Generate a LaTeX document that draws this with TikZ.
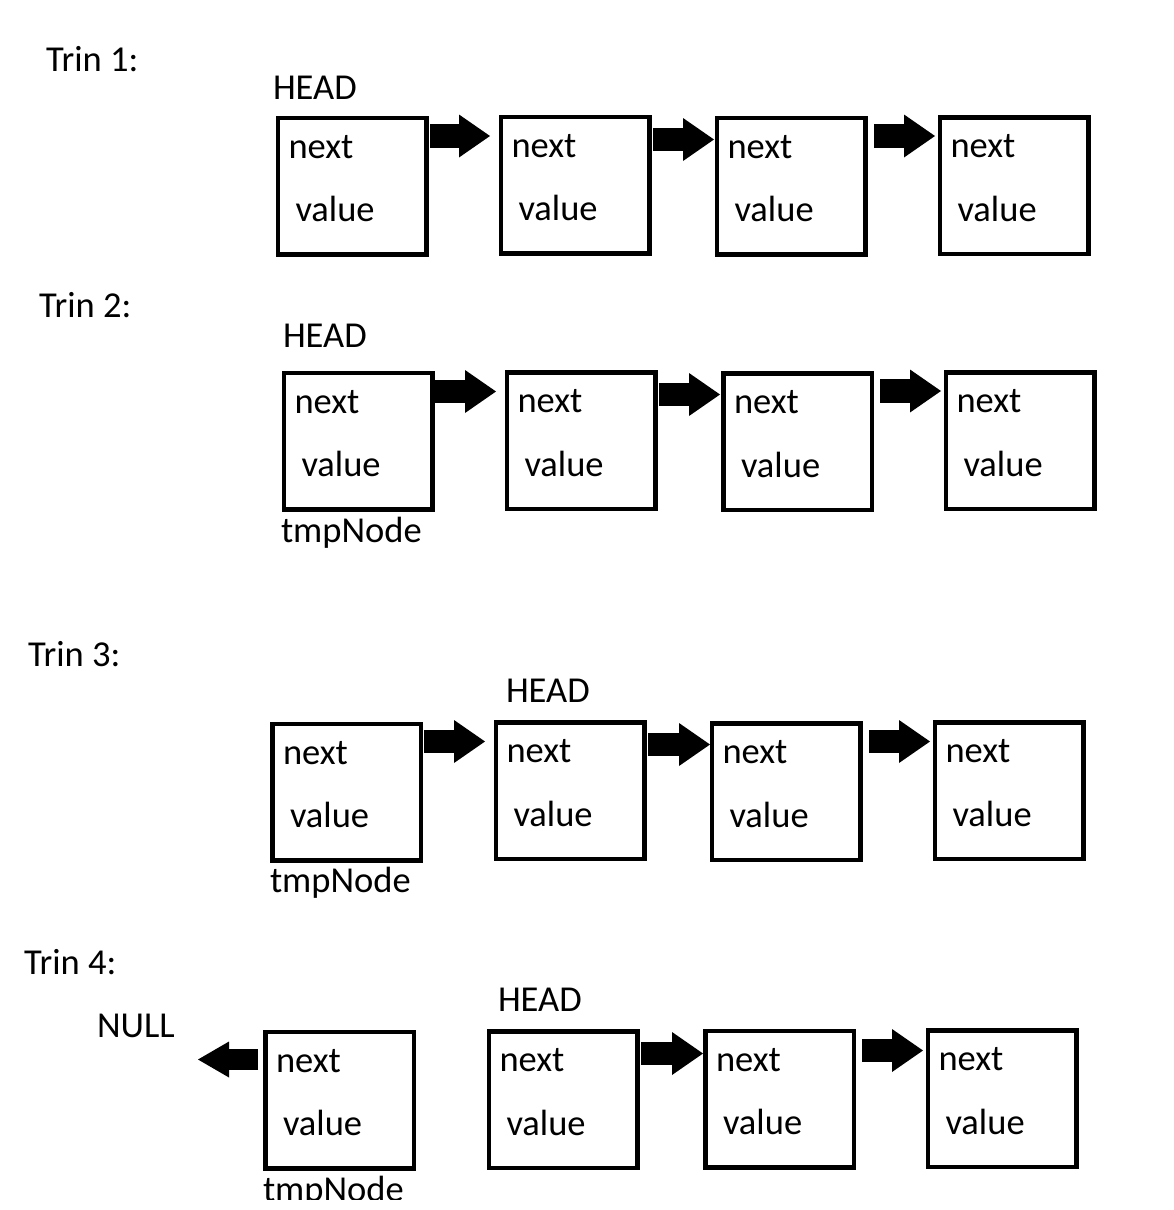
\documentclass[tikz,border=0pt]{standalone}
\usepackage{fontspec}
\setmainfont{Carlito}
\usetikzlibrary{arrows.meta}
\tikzset{
  lbox/.style={draw, line width=4.5pt, minimum width=148.5pt, minimum height=136.5pt, inner sep=0pt, outer sep=2.25pt},
  ltext/.style={inner sep=0pt, outer sep=0pt, anchor=base west, font=\fontsize{36.5}{44}\selectfont},
  blockarrow/.style={line width=23.5pt, -{Triangle[length=31pt,width=43pt,line width'=0pt]}},
  smallarrow/.style={line width=21pt, -{Triangle[length=31pt,width=36pt,line width'=0pt]}}
}
\newcommand\listbox[3]{%
  \node[lbox] (#1) at (#2,#3) {};
  \node[ltext] (#1n) at ([shift={(13,42.5)}]#1.north west) {next};
  \node[ltext] (#1v) at ([shift={(20,106)}]#1.north west) {value};
}
\begin{document}
\begin{tikzpicture}[x=1pt,y=-1pt]
\useasboundingbox[fill=white] (0,0) rectangle (1173,1210);

% ---- Trin 1
\node[ltext] (t1) at (46,71) {Trin 1:};
\node[ltext] (h1) at (273,99) {HEAD};
\listbox{b11}{352}{186}
\listbox{b12}{575}{185}
\listbox{b13}{791}{186}
\listbox{b14}{1014}{185.5}
\draw[blockarrow] ([shift={(1.5,20.5)}]b11.north east) -- ([shift={(-8.5,21.5)}]b12.north west);
\draw[blockarrow] ([shift={(1.5,25)}]b12.north east) -- ([shift={(-0.5,24)}]b13.north west);
\draw[blockarrow] ([shift={(6.5,20.5)}]b13.north east) -- ([shift={(-2.5,21)}]b14.north west);

% ---- Trin 2
\node[ltext] (t2) at (39,317) {Trin 2:};
\node[ltext] (h2) at (283,347) {HEAD};
\listbox{b21}{358}{441}
\listbox{b22}{581}{440.5}
\listbox{b23}{797.5}{441.5}
\listbox{b24}{1020}{440.5}
\node[ltext] (tmp2) at (281,542) {tmpNode};
\draw[blockarrow] ([shift={(0.5,21)}]b21.north east) -- ([shift={(-8.5,21.5)}]b22.north west);
\draw[blockarrow] ([shift={(1.5,24.5)}]b22.north east) -- ([shift={(-1,23.5)}]b23.north west);
\draw[blockarrow] ([shift={(6,20)}]b23.north east) -- ([shift={(-2.5,21)}]b24.north west);

% ---- Trin 3
\node[ltext] (t3) at (28,666) {Trin 3:};
\node[ltext] (h3) at (506,702) {HEAD};
\listbox{b31}{346.5}{792}
\listbox{b32}{570}{790.5}
\listbox{b33}{786}{791.5}
\listbox{b34}{1009}{790.5}
\node[ltext] (tmp3) at (270,892) {tmpNode};
\draw[blockarrow] ([shift={(1,20)}]b31.north east) -- ([shift={(-8.5,21.5)}]b32.north west);
\draw[blockarrow] ([shift={(1.5,24.5)}]b32.north east) -- ([shift={(0.5,23.5)}]b33.north west);
\draw[blockarrow] ([shift={(6.5,20.5)}]b33.north east) -- ([shift={(-2.5,21.5)}]b34.north west);

% ---- Trin 4
\node[ltext] (t4) at (24,974) {Trin 4:};
\node[ltext] (null) at (97,1037) {NULL};
\coordinate (nullend) at (198,1059.5);
\node[ltext] (h4) at (498,1011) {HEAD};
\listbox{b41}{339.5}{1100}
\listbox{b42}{563}{1099.5}
\listbox{b43}{779.5}{1099}
\listbox{b44}{1002}{1098.5}
\begin{scope}
  \clip (0,0) rectangle (1173,1199);
  \node[ltext] (tmp4) at (263,1201) {tmpNode};
\end{scope}
\draw[smallarrow] ([shift={(-5,30)}]b41.north west) -- (nullend);
\draw[blockarrow] ([shift={(1.5,24.5)}]b42.north east) -- ([shift={(0,25)}]b43.north west);
\draw[blockarrow] ([shift={(6,22)}]b43.north east) -- ([shift={(-2.5,22.5)}]b44.north west);
\end{tikzpicture}
\end{document}
